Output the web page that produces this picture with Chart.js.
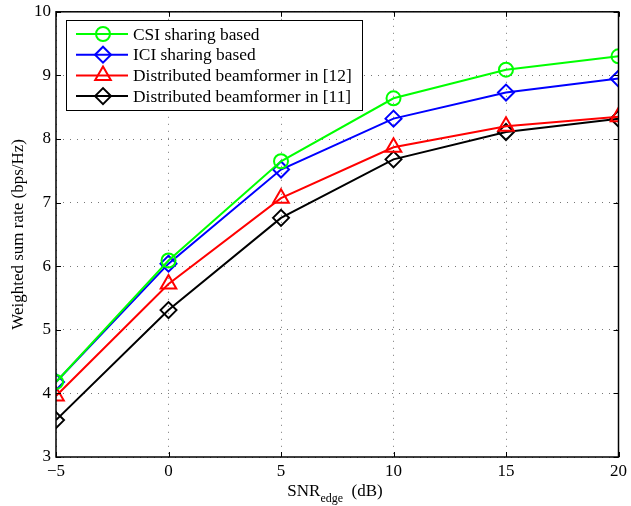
<!DOCTYPE html>
<html>
<head>
<meta charset="utf-8">
<script src="https://cdn.jsdelivr.net/npm/chart.js@4"></script>
<style>
  html, body { margin: 0; padding: 0; background: #fff; }
  #wrap { width: 631px; height: 506px; }
</style>
</head>
<body>
<div id="wrap"><canvas id="grafico" width="631" height="506"></canvas></div>
<script>
const snrEdge = [-5, 0, 5, 10, 15, 20];
const csiSharing = [4.18, 6.09, 7.65, 8.64, 9.09, 9.30];
const iciSharing = [4.18, 6.04, 7.52, 8.32, 8.73, 8.95];
const distribuido12 = [3.96, 5.72, 7.07, 7.87, 8.20, 8.35];
const distribuido11 = [3.58, 5.31, 6.76, 7.68, 8.11, 8.32];
const ticksX = [-5, 0, 5, 10, 15, 20];
const ticksY = [3, 4, 5, 6, 7, 8, 9, 10];
const nomesSeries = ['CSI sharing based', 'ICI sharing based', 'Distributed beamformer in [12]', 'Distributed beamformer in [11]'];

const fonte = '"Liberation Serif", "DejaVu Serif", serif';

const pontos = (ys) => snrEdge.map((x, i) => ({ x: x, y: ys[i] }));

const series = [
  { label: nomesSeries[0], data: pontos(csiSharing), borderColor: '#00ff00', pointStyle: 'circle', pointRadius: 7 },
  { label: nomesSeries[1], data: pontos(iciSharing), borderColor: '#0000ff', pointStyle: 'rectRot', pointRadius: 8 },
  { label: nomesSeries[2], data: pontos(distribuido12), borderColor: '#ff0000', pointStyle: 'triangle', pointRadius: 9 },
  { label: nomesSeries[3], data: pontos(distribuido11), borderColor: '#000000', pointStyle: 'rectRot', pointRadius: 8 }
].map(s => Object.assign(s, {
  borderWidth: 2,
  pointBorderColor: s.borderColor,
  pointBackgroundColor: 'rgba(0,0,0,0)',
  pointBorderWidth: 2,
  tension: 0
}));

// ticks para dentro, estilo matlab, e caixa do eixo
const pluginMoldura = {
  id: 'moldura',
  afterDatasetsDraw(chart) {
    const { ctx, chartArea: a, scales } = chart;
    ctx.save();
    ctx.strokeStyle = '#000';
    ctx.lineWidth = 1;
    ctx.beginPath();
    ticksX.forEach(v => {
      const px = Math.round(scales.x.getPixelForValue(v)) + 0.5;
      ctx.moveTo(px, a.bottom); ctx.lineTo(px, a.bottom - 5);
      ctx.moveTo(px, a.top); ctx.lineTo(px, a.top + 5);
    });
    ticksY.forEach(v => {
      const py = Math.round(scales.y.getPixelForValue(v)) + 0.5;
      ctx.moveTo(a.left, py); ctx.lineTo(a.left + 5, py);
      ctx.moveTo(a.right, py); ctx.lineTo(a.right - 5, py);
    });
    ctx.stroke();
    ctx.lineWidth = 1.5;
    ctx.strokeRect(a.left, a.top, a.right - a.left, a.bottom - a.top);
    ctx.restore();
  },
  afterDraw(chart) {
    const { ctx } = chart;
    ctx.save();
    // legenda
    const lx = 66, ly = 20, lw = 296, lh = 90;
    ctx.fillStyle = '#fff';
    ctx.fillRect(lx, ly, lw, lh);
    ctx.strokeStyle = '#000';
    ctx.lineWidth = 1;
    ctx.strokeRect(lx + 0.5, ly + 0.5, lw, lh);
    ctx.textBaseline = 'middle';
    ctx.textAlign = 'left';
    chart.data.datasets.forEach((ds, i) => {
      const y = ly + 14 + i * 20.7;
      ctx.strokeStyle = ds.borderColor;
      ctx.lineWidth = 2;
      ctx.beginPath();
      ctx.moveTo(lx + 10, y); ctx.lineTo(lx + 62, y);
      ctx.stroke();
      ctx.fillStyle = 'rgba(0,0,0,0)';
      Chart.helpers.drawPoint(ctx, {
        pointStyle: ds.pointStyle, radius: ds.pointRadius, rotation: 0, borderWidth: 2
      }, lx + 37, y);
      ctx.fillStyle = '#000';
      ctx.font = '17.4px ' + fonte;
      ctx.fillText(ds.label, lx + 67, y + 1);
    });
    // titulo do eixo x com subscrito
    const cx = 335;
    const ty = 496;
    const p1 = 'SNR', p2 = 'edge', p3 = '  (dB)';
    ctx.font = '17px ' + fonte;
    const w1 = ctx.measureText(p1).width, w3 = ctx.measureText(p3).width;
    ctx.font = '12px ' + fonte;
    const w2 = ctx.measureText(p2).width;
    const x0 = cx - (w1 + w2 + w3) / 2;
    ctx.fillStyle = '#000';
    ctx.textBaseline = 'alphabetic';
    ctx.font = '17px ' + fonte;
    ctx.fillText(p1, x0, ty);
    ctx.font = '12px ' + fonte;
    ctx.fillText(p2, x0 + w1, ty + 6);
    ctx.font = '17px ' + fonte;
    ctx.fillText(p3, x0 + w1 + w2, ty);
    ctx.restore();
  }
};

const grafico = new Chart(document.getElementById('grafico').getContext('2d'), {
  type: 'line',
  data: { datasets: series },
  options: {
    responsive: false,
    animation: false,
    layout: { padding: { top: 11, right: 1, left: 8, bottom: 0 } },
    plugins: {
      legend: { display: false },
      tooltip: { enabled: false }
    },
    scales: {
      x: {
        type: 'linear',
        min: -5, max: 20,
        afterBuildTicks: (eixo) => { eixo.ticks = ticksX.map(v => ({ value: v })); },
        afterFit: (eixo) => { eixo.height = 49; },
        border: { display: false, dash: [1, 6] },
        grid: { color: '#777', lineWidth: 1, drawTicks: false },
        ticks: {
          color: '#000', font: { family: fonte, size: 17 }, padding: 4,
          callback: (v) => String(v).replace('-', '\u2212')
        }
      },
      y: {
        min: 3, max: 10,
        afterBuildTicks: (eixo) => { eixo.ticks = ticksY.map(v => ({ value: v })); },
        afterFit: (eixo) => { eixo.width = 48; },
        border: { display: false, dash: [1, 6] },
        grid: { color: '#777', lineWidth: 1, drawTicks: false },
        title: {
          display: true, text: 'Weighted sum rate (bps/Hz)', color: '#000',
          font: { family: fonte, size: 17 }, padding: { top: 0, bottom: 0 }
        },
        ticks: { color: '#000', font: { family: fonte, size: 17, lineHeight: 0.8 }, padding: 5 }
      }
    }
  },
  plugins: [pluginMoldura]
});
</script>
</body>
</html>
